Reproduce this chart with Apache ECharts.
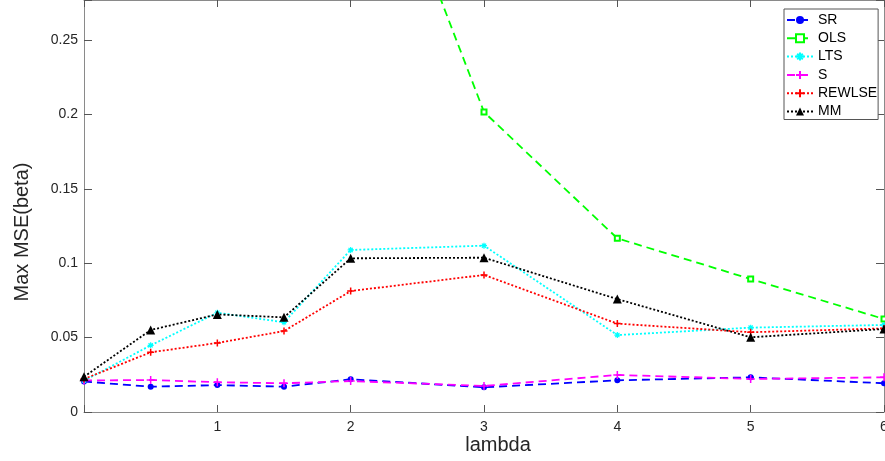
<!DOCTYPE html>
<html><head><meta charset="utf-8">
<script src="https://cdn.jsdelivr.net/npm/echarts@6/dist/echarts.min.js"></script>
<style>html,body{margin:0;padding:0;background:#fff}#c{width:885px;height:461px}</style>
</head><body><div id="c"></div>
<script>
const lambda = [0, 0.5, 1, 1.5, 2, 3, 4, 5, 6];
const SR     = [0.0205, 0.0170, 0.0181, 0.0170, 0.0220, 0.0166, 0.0213, 0.0233, 0.0193];
const OLS    = [0.62, 0.71, 0.66, 0.55, 0.435, 0.2016, 0.1167, 0.0894, 0.0625];
const LTS    = [0.0210, 0.0448, 0.0667, 0.0603, 0.1089, 0.1118, 0.0517, 0.0567, 0.0585];
const S      = [0.0212, 0.0215, 0.0200, 0.0193, 0.0208, 0.0175, 0.0249, 0.0222, 0.0233];
const REWLSE = [0.0222, 0.0401, 0.0464, 0.0544, 0.0813, 0.0921, 0.0594, 0.0536, 0.0562];
const MM     = [0.0237, 0.0551, 0.0656, 0.0636, 0.1033, 0.1037, 0.0759, 0.0502, 0.0558];
const seriesNames = ['SR', 'OLS', 'LTS', 'S', 'REWLSE', 'MM'];
const xLabel = 'lambda';
const yLabel = 'Max MSE(beta)';

const FONT = "'Liberation Sans', Arial, Helvetica, sans-serif";
const pair = arr => lambda.map((x, i) => [x, arr[i]]);
const plus = 'path://M0,-1L0,1M-1,0L1,0';
const star = 'path://M0,-1L0,1M-1,0L1,0M-0.7,-0.7L0.7,0.7M-0.7,0.7L0.7,-0.7';

const styles = {
  SR:     {color: '#0000ff', type: [8, 5], symbol: 'circle', size: 6, bw: 0},
  OLS:    {color: '#00ff00', type: [8, 5], symbol: 'emptyRect', size: 5, bw: 1},
  LTS:    {color: '#00ffff', type: [2, 2], symbol: star, size: 6, bw: 1.2},
  S:      {color: '#ff00ff', type: [8, 5], symbol: plus, size: 8, bw: 1.5},
  REWLSE: {color: '#ff0000', type: [2, 2], symbol: plus, size: 7, bw: 1.5},
  MM:     {color: '#000000', type: [2, 2], symbol: 'triangle', size: 9, bw: 0}
};
const dataMap = {SR, OLS, LTS, S, REWLSE, MM};

const series = seriesNames.map(n => {
  const st = styles[n];
  return {
    name: n, type: 'line', data: pair(dataMap[n]),
    xAxisIndex: 0, yAxisIndex: 0,
    symbol: st.symbol, symbolSize: st.size, showAllSymbol: true,
    lineStyle: {color: st.color, width: 1.8, type: st.type},
    itemStyle: {color: st.color, borderColor: st.color, borderWidth: st.bw},
    emphasis: {disabled: true},
    animation: false, clip: true
  };
});

const axisLineColor = '#8a8a8a';
const tickColor = '#555';
const labelColor = '#262626';
const yFmt = v => {
  const k = v / 0.05;
  return Math.abs(k - Math.round(k)) < 1e-6 ? String(+v.toFixed(2)) : '';
};

const chart = echarts.init(document.getElementById('c'), null, {renderer: 'canvas'});
chart.setOption({
  backgroundColor: '#fff',
  animation: false,
  grid: {left: 84, right: 1, top: 0, bottom: 49, containLabel: false, outerBoundsMode: 'none'},
  xAxis: [
    {type: 'value', min: 0, max: 6, interval: 1, position: 'bottom',
     axisLine: {show: true, lineStyle: {color: axisLineColor, width: 1}},
     axisTick: {show: true, inside: true, length: 7, lineStyle: {color: tickColor}},
     axisLabel: {margin: 8, fontSize: 14, color: labelColor, fontFamily: FONT,
                 formatter: v => v === 0 ? '' : String(v)},
     splitLine: {show: false}},
    {type: 'value', min: 0, max: 6, interval: 1, position: 'top',
     axisLine: {show: true, onZero: false, lineStyle: {color: axisLineColor, width: 1}},
     axisTick: {show: true, inside: true, length: 7, lineStyle: {color: tickColor}},
     axisLabel: {show: false}, splitLine: {show: false}}
  ],
  yAxis: [
    {type: 'value', min: 0, max: 0.2769, interval: 0.05, position: 'left',
     axisLine: {show: true, lineStyle: {color: axisLineColor, width: 1}},
     axisTick: {show: true, inside: true, length: 8, lineStyle: {color: tickColor}},
     axisLabel: {margin: 6, fontSize: 14, color: labelColor, fontFamily: FONT, formatter: yFmt},
     splitLine: {show: false}},
    {type: 'value', min: 0, max: 0.2769, interval: 0.05, position: 'right',
     axisLine: {show: true, onZero: false, lineStyle: {color: axisLineColor, width: 1}},
     axisTick: {show: true, inside: true, length: 8, lineStyle: {color: tickColor}},
     axisLabel: {show: false}, splitLine: {show: false}}
  ],
  legend: {
    orient: 'vertical', left: 784, top: 9,
    data: seriesNames,
    itemWidth: 26, itemHeight: 10, itemGap: 4.3,
    padding: [4, 1, 1, 2],
    backgroundColor: '#fff', borderColor: '#555', borderWidth: 1, borderRadius: 0,
    textStyle: {fontSize: 14, color: '#000', fontFamily: FONT, lineHeight: 14},
    selectedMode: false
  },
  graphic: [
    {type: 'text', x: 22, y: 232, rotation: Math.PI / 2,
     style: {text: yLabel, font: '20px ' + FONT, fill: labelColor, textAlign: 'center', textVerticalAlign: 'middle'}},
    {type: 'text', x: 498, y: 445,
     style: {text: xLabel, font: '20px ' + FONT, fill: labelColor, textAlign: 'center', textVerticalAlign: 'middle'}}
  ],
  series: series
});
</script></body></html>
